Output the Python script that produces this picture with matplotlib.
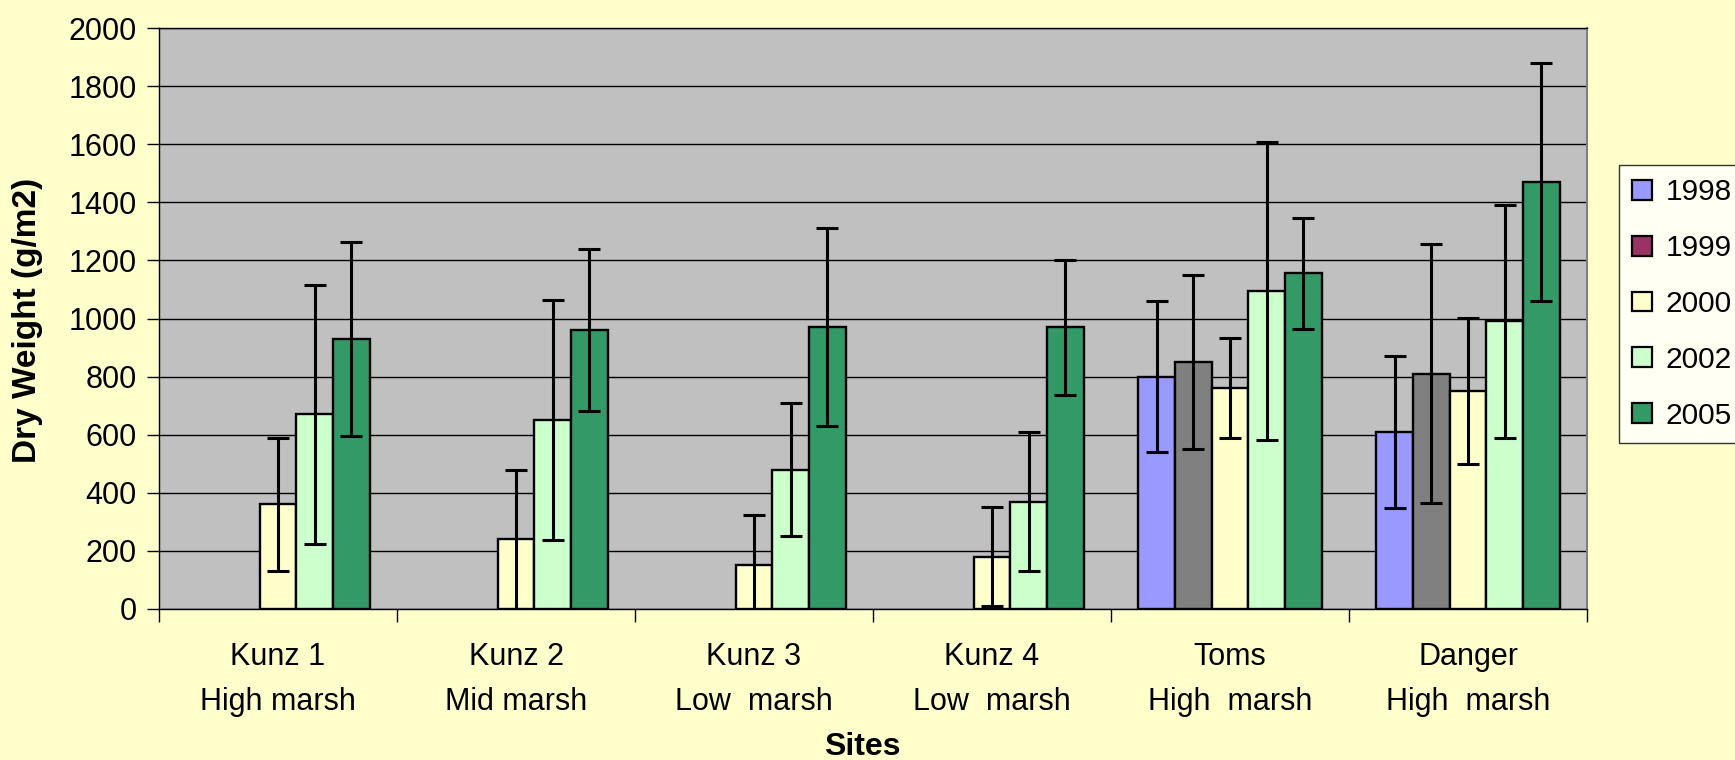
import numpy as np
import matplotlib
matplotlib.use("Agg")
import matplotlib.pyplot as plt
from matplotlib.patches import Patch

plt.rcParams['font.family'] = ['Liberation Sans', 'DejaVu Sans']

# Above-ground biomass by site and year (g/m2), with standard deviations
sites = ["Kunz 1\nHigh marsh", "Kunz 2\nMid marsh", "Kunz 3\nLow  marsh",
         "Kunz 4\nLow  marsh", "Toms\nHigh  marsh", "Danger\nHigh  marsh"]
years = ["1998", "1999", "2000", "2002", "2005"]

nan = np.nan
mean_1998 = [nan, nan, nan, nan, 800, 610]
mean_1999 = [nan, nan, nan, nan, 850, 810]
mean_2000 = [360, 240, 150, 180, 760, 750]
mean_2002 = [670, 650, 480, 370, 1095, 990]
mean_2005 = [930, 960, 970, 970, 1155, 1470]

sd_1998 = [nan, nan, nan, nan, 260, 262]
sd_1999 = [nan, nan, nan, nan, 300, 445]
sd_2000 = [230, 240, 172, 170, 172, 252]
sd_2002 = [445, 413, 230, 240, 512, 400]
sd_2005 = [333, 280, 340, 233, 192, 410]

means = [mean_1998, mean_1999, mean_2000, mean_2002, mean_2005]
sds = [sd_1998, sd_1999, sd_2000, sd_2002, sd_2005]

bar_colors = ["#9999FF", "#808080", "#FFFFCC", "#CCFFCC", "#339966"]
legend_colors = ["#9999FF", "#993366", "#FFFFCC", "#CCFFCC", "#339966"]

fig = plt.figure(figsize=(17.35, 7.6), dpi=100, facecolor="#FFFFCC")
ax = fig.add_axes([159 / 1735, 1 - 609 / 760, (1587 - 159) / 1735, (609 - 28) / 760])
ax.set_facecolor("#C0C0C0")

x = np.arange(len(sites))
width = 1 / 6.5
for j, (vals, col) in enumerate(zip(means, bar_colors)):
    pos = x + (j - 2) * width
    ax.bar(pos, vals, width=width, color=col, edgecolor="black",
           linewidth=1.7, zorder=3)
for j, (vals, errs) in enumerate(zip(means, sds)):
    pos = x + (j - 2) * width
    ax.errorbar(pos, vals, yerr=errs, fmt="none", ecolor="black",
                elinewidth=2.2, capsize=8, capthick=2.2, zorder=4)

ax.set_ylim(0, 2000)
ax.set_xlim(-0.5, len(sites) - 0.5)
ax.set_yticks(np.arange(0, 2001, 200))
ax.yaxis.grid(True, color="black", linewidth=1.0, zorder=0)
ax.set_axisbelow(True)
ax.tick_params(axis="y", direction="out", length=9, width=1, pad=7,
               labelsize=22, colors="black")

ax.set_xticks(np.arange(len(sites) + 1) - 0.5)
ax.set_xticklabels([])
ax.tick_params(axis="x", which="major", direction="out", length=9, width=1)
ax.set_xticks(x, minor=True)
ax.set_xticklabels(sites, minor=True, fontsize=22, linespacing=1.62)
ax.tick_params(axis="x", which="minor", length=0, pad=24)

for side in ["left", "bottom", "top"]:
    ax.spines[side].set_color("black")
    ax.spines[side].set_linewidth(1.0)
ax.spines["right"].set_color("#808080")
ax.spines["right"].set_linewidth(1.5)

fig.text(28 / 1735, 1 - 320 / 760, "Dry Weight (g/m2)", rotation=90,
         ha="center", va="center", fontsize=24, fontweight="bold")
fig.text(862 / 1735, 1 - 747 / 760, "Sites", ha="center", va="center",
         fontsize=23, fontweight="bold")

handles = [Patch(facecolor=c, edgecolor="black", linewidth=1.6) for c in legend_colors]
leg = fig.legend(handles, years, loc="upper left",
                 bbox_to_anchor=(1619 / 1735, 1 - 165 / 760),
                 borderaxespad=0, fontsize=21.5, frameon=True, fancybox=False,
                 handlelength=0.65, handleheight=0.65, handletextpad=0.45,
                 labelspacing=0.93, borderpad=0.45)
leg.get_frame().set_edgecolor("black")
leg.get_frame().set_facecolor("white")
leg.get_frame().set_linewidth(1.0)

fig.savefig("out.png", dpi=100, facecolor=fig.get_facecolor())
